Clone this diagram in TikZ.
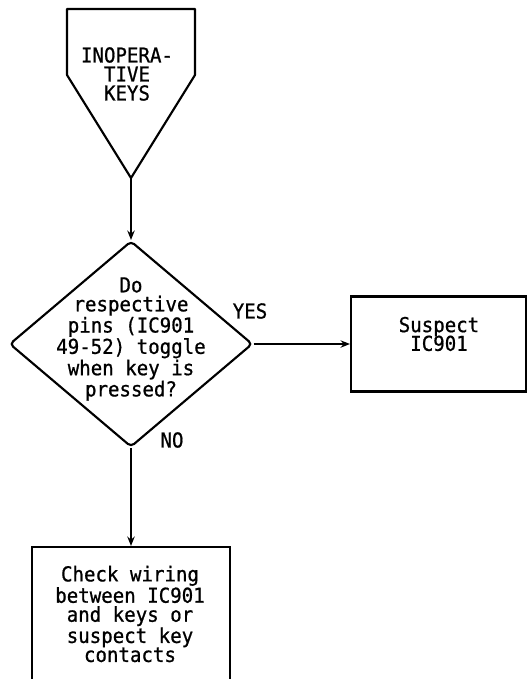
\documentclass[tikz,border=0pt]{standalone}
\usepackage{fontspec}
\newfontfamily\plotfont[FakeStretch=0.93,FakeBold=0.8]{DejaVu Sans Mono}
\usetikzlibrary{arrows.meta,shapes.geometric}

\begin{document}
\begin{tikzpicture}[x=0.75pt,y=-0.75pt,
    every node/.style={font=\plotfont\fontsize{15.4}{14.25}\selectfont,align=center,inner sep=0pt},
    outline/.style={draw,line width=1.6pt},
    decision/.style={outline,diamond,rounded corners=3pt,minimum width=182.25pt,minimum height=154.5pt},
    flow/.style={line width=1.6pt,-{Stealth[length=7pt,width=5.5pt]}}]
  % Page
  \useasboundingbox (0,0) rectangle (528,679);
  \clip (0,0) rectangle (528,679);

  % Start (off-page connector)
  \coordinate (keystl) at (67,9);
  \coordinate (keystr) at (195,9);
  \coordinate (keysr) at (195,75);
  \coordinate (keystip) at (131,178);
  \coordinate (keysl) at (67,75);
  \draw[outline,line join=round] (keystl) -- (keystr) -- (keysr) -- (keystip) -- (keysl) -- cycle;
  \node (keys) at (127,74) {INOPERA-\\TIVE\\KEYS};

  % Question
  \node[decision] (ask) at (131,344) {};
  \node (asktext) at (131,339) {Do\\respective\\pins (IC901\\49-52) toggle\\when key is\\pressed?};

  % Outcomes
  \node[outline,minimum width=131.25pt,minimum height=71.25pt] (suspect) at (438.5,344) {};
  \node (suspecttext) at (439,334) {Suspect\\[-1.6pt]IC901};
  \node[outline,minimum width=148.5pt,minimum height=107.25pt] (check) at (131,618.5) {};
  \node (checktext) at (130,614) {Check wiring\\between IC901\\and keys or\\suspect key\\contacts};

  % Connectors
  \draw[flow] (keystip) -- (ask.north);
  \draw[flow] (ask.east) -- (suspect.west);
  \draw[flow] (ask.south) -- (check.north);

  % Branch labels
  \node (yes) at (250,311) {YES};
  \node (no) at (172,440) {NO};
\end{tikzpicture}
\end{document}
